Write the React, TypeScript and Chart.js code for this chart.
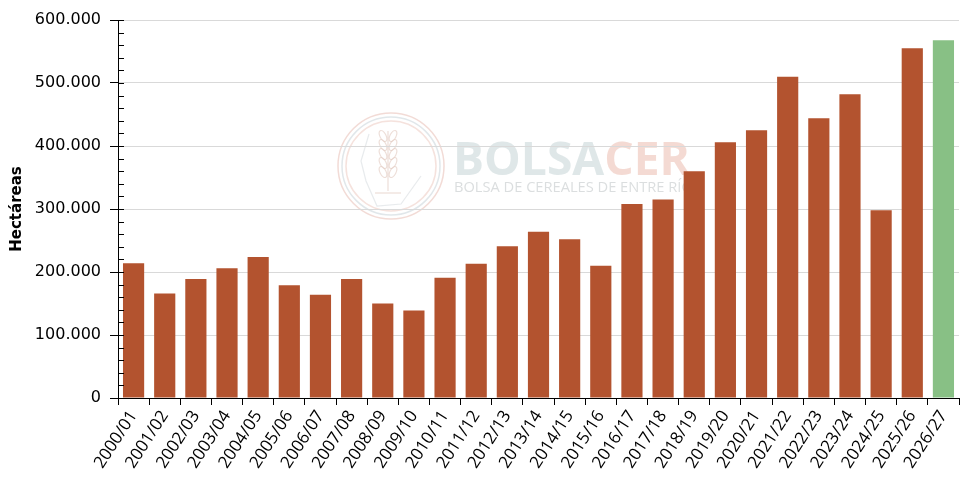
import React, { useEffect, useRef } from "react";
import { Chart, registerables } from "chart.js";

Chart.register(...registerables);

const campaigns = [
  "2000/01", "2001/02", "2002/03", "2003/04", "2004/05", "2005/06", "2006/07",
  "2007/08", "2008/09", "2009/10", "2010/11", "2011/12", "2012/13", "2013/14",
  "2014/15", "2015/16", "2016/17", "2017/18", "2018/19", "2019/20", "2020/21",
  "2021/22", "2022/23", "2023/24", "2024/25", "2025/26", "2026/27",
];

const hectares = [
  214000, 166000, 189000, 206000, 224000, 179000, 164000,
  189000, 150000, 139000, 191000, 213000, 241000, 264000,
  252000, 210000, 308000, 315000, 360000, 406000, 425000,
  510000, 444000, 482000, 298000, 555000, 568000,
];

const projectedCampaigns = ["2026/27"];

const yTicks = [0, 100000, 200000, 300000, 400000, 500000, 600000];

const BAR = "#b3532f";
const BAR_PROJ = "#88c085";

const fmt = (v: number) => String(v).replace(/\B(?=(\d{3})+(?!\d))/g, ".");

const watermark = {
  id: "watermark",
  beforeDraw(chart: any) {
    const ctx = chart.ctx as CanvasRenderingContext2D;
    ctx.save();
    const cx = 391, cy = 166;
    ctx.lineWidth = 1.5;
    ctx.strokeStyle = "rgba(232,190,180,0.55)";
    ctx.beginPath(); ctx.arc(cx, cy, 53, 0, Math.PI * 2); ctx.stroke();
    ctx.strokeStyle = "rgba(205,215,220,0.6)";
    ctx.beginPath(); ctx.arc(cx, cy, 49, 0, Math.PI * 2); ctx.stroke();
    ctx.strokeStyle = "rgba(232,190,180,0.45)";
    ctx.beginPath(); ctx.arc(cx, cy, 45, 0, Math.PI * 2); ctx.stroke();
    ctx.strokeStyle = "rgba(225,200,190,0.6)";
    ctx.lineWidth = 1.2;
    ctx.beginPath(); ctx.moveTo(cx - 3, cy - 35); ctx.lineTo(cx - 3, cy + 25); ctx.stroke();
    for (let i = 0; i < 5; i++) {
      const yy = cy - 30 + i * 9;
      ctx.beginPath(); ctx.ellipse(cx - 8, yy, 3, 6, -0.5, 0, Math.PI * 2); ctx.stroke();
      ctx.beginPath(); ctx.ellipse(cx + 2, yy, 3, 6, 0.5, 0, Math.PI * 2); ctx.stroke();
    }
    ctx.beginPath(); ctx.moveTo(cx - 16, cy + 27); ctx.lineTo(cx + 10, cy + 27); ctx.stroke();
    ctx.strokeStyle = "rgba(210,215,220,0.5)";
    ctx.beginPath();
    ctx.moveTo(cx - 22, cy - 32); ctx.lineTo(cx - 30, cy - 5); ctx.lineTo(cx - 25, cy + 15);
    ctx.lineTo(cx - 14, cy + 40); ctx.lineTo(cx + 10, cy + 38); ctx.lineTo(cx + 30, cy + 10);
    ctx.stroke();

    ctx.textBaseline = "alphabetic";
    ctx.font = "bold 46px 'Open Sans'";
    const w1 = ctx.measureText("BOLSA").width;
    const w2 = ctx.measureText("CER").width;
    const s = 237 / (w1 + w2);
    ctx.font = `bold ${46 * s}px 'Open Sans'`;
    const x0 = 453, base = 175;
    ctx.fillStyle = "rgba(215,225,226,0.8)";
    ctx.fillText("BOLSA", x0, base);
    ctx.fillStyle = "rgba(242,212,203,0.85)";
    ctx.fillText("CER", x0 + w1 * s, base);
    const sub = "BOLSA DE CEREALES DE ENTRE RÍOS";
    ctx.font = "13px 'Open Sans'";
    const ws = ctx.measureText(sub).width;
    const s2 = 247 / ws;
    ctx.font = `${13 * s2}px 'Open Sans'`;
    ctx.fillStyle = "rgba(215,218,220,0.9)";
    ctx.fillText(sub, 454, 192);
    ctx.restore();
  },
};

const minorTicks = {
  id: "minorTicks",
  afterDraw(chart: any) {
    const ctx = chart.ctx as CanvasRenderingContext2D;
    const y = chart.scales.y;
    const left = chart.chartArea.left;
    ctx.save();
    ctx.strokeStyle = "#000";
    ctx.lineWidth = 1;
    for (let v = 0; v <= 600000; v += 20000) {
      const py = Math.round(y.getPixelForValue(v)) + 0.5;
      ctx.beginPath();
      ctx.moveTo(left, py);
      ctx.lineTo(left + 6, py);
      ctx.stroke();
    }
    ctx.restore();
  },
};

export default function App() {
  const ref = useRef<HTMLCanvasElement | null>(null);

  useEffect(() => {
    document.body.style.margin = "0";
    if (!ref.current) return;
    const colors = campaigns.map((c) => (projectedCampaigns.includes(c) ? BAR_PROJ : BAR));
    const chart = new Chart(ref.current, {
      type: "bar",
      data: {
        labels: campaigns,
        datasets: [
          {
            data: hectares,
            backgroundColor: colors,
            borderWidth: 0,
            barPercentage: 0.68,
            categoryPercentage: 1,
          },
        ],
      },
      options: {
        animation: false,
        responsive: true,
        maintainAspectRatio: false,
        layout: { padding: { top: 20, right: 6, left: 0, bottom: 0 } },
        plugins: { legend: { display: false }, tooltip: { enabled: false } },
        scales: {
          x: {
            grid: {
              offset: true,
              drawOnChartArea: false,
              tickLength: 7,
              tickColor: "#000",
            },
            border: { color: "#000", width: 1 },
            ticks: {
              autoSkip: false,
              minRotation: 57,
              maxRotation: 57,
              padding: 2,
              color: "#000",
              font: { family: "'Open Sans'", size: 17 },
            },
            afterFit: (s: any) => { s.height = 90; },
          },
          y: {
            min: 0,
            max: 600000,
            afterBuildTicks: (s: any) => { s.ticks = yTicks.map((v) => ({ value: v })); },
            grid: { color: "#d9d9d9", tickLength: 8, tickColor: "#000", lineWidth: 1 },
            border: { color: "#000", width: 1 },
            ticks: {
              padding: 9,
              color: "#000",
              font: { family: "'DejaVu Sans'", size: 16 },
              callback: (v: any) => fmt(Number(v)),
            },
            title: {
              display: true,
              text: "Hectáreas",
              color: "#000",
              font: { family: "'DejaVu Sans'", size: 15, weight: "bold" },
              padding: { top: 8, bottom: 0 },
            },
            afterFit: (s: any) => { s.width = 118; },
          },
        },
      },
      plugins: [watermark, minorTicks],
    });
    return () => chart.destroy();
  }, []);

  return (
    <div style={{ position: "absolute", left: 0, top: 0, width: 965, height: 488 }}>
      <canvas ref={ref} />
    </div>
  );
}
